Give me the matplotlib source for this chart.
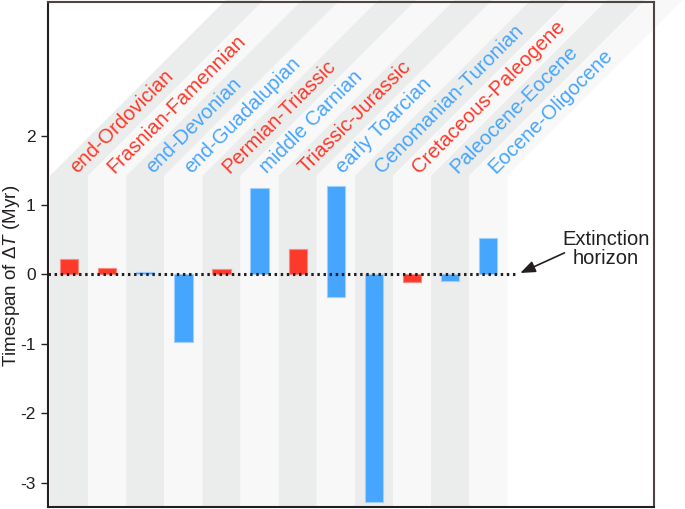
import matplotlib
matplotlib.use("Agg")
import matplotlib.pyplot as plt
from matplotlib.patches import Polygon
import numpy as np

plt.rcParams['font.family'] = ['Liberation Sans', 'DejaVu Sans']
plt.rcParams['mathtext.fontset'] = 'custom'
plt.rcParams['mathtext.rm'] = 'Liberation Sans'
plt.rcParams['mathtext.it'] = 'Liberation Sans:italic'

# ---- data ----
events = ["end-Ordovician", "Frasnian-Famennian", "end-Devonian", "end-Guadalupian",
          "Permian-Triassic", "middle Carnian", "Triassic-Jurassic", "early Toarcian",
          "Cenomanian-Turonian", "Cretaceous-Paleogene", "Paleocene-Eocene", "Eocene-Oligocene"]
groups = ["red", "red", "blue", "blue", "red", "blue", "red", "blue", "blue", "red", "blue", "blue"]
span_low = [0, 0, 0, -0.98, 0, 0, 0, -0.33, -3.28, -0.11, -0.09, 0]
span_high = [0.22, 0.09, 0.035, 0, 0.08, 1.24, 0.37, 1.27, 0, 0, 0, 0.52]
yticks = [-3, -2, -1, 0, 1, 2]
yticklabels = ["-3", "-2", "-1", "0", "1", "2"]

RED = "#fb3a2b"
BLUE = "#46a5fc"
RED_EDGE = "#fc8a80"
BLUE_EDGE = "#9fd0fd"
colors = {"red": RED, "blue": BLUE}
edges = {"red": RED_EDGE, "blue": BLUE_EDGE}
STRIPE_DARK = "#ebecec"
STRIPE_LIGHT = "#f8f8f8"

W, H = 685, 509
fig = plt.figure(figsize=(W / 100, H / 100), dpi=100)
ax = fig.add_axes([48 / W, 1 - 507 / H, (654 - 48) / W, (507 - 1.5) / H])

ax.set_xlim(-0.5525, 15.35)
ax.set_ylim(-3.35, 3.93)

n = len(events)
x = np.arange(n)
stripe_top = 1.42

# background stripes with 45-degree (in pixels) extension
to_disp = ax.transData
to_data = ax.transData.inverted()
for i in range(n):
    (xl, yb), = to_disp.transform([(i - 0.5, -3.35)])
    (xr, yt), = to_disp.transform([(i + 0.5, stripe_top)])
    ext = 400
    pts = [(xl, yb), (xr, yb), (xr, yt), (xr + ext, yt + ext), (xl + ext, yt + ext), (xl, yt)]
    pts = to_data.transform(pts)
    poly = Polygon(pts, closed=True, facecolor=STRIPE_DARK if i % 2 == 0 else STRIPE_LIGHT,
                   edgecolor='none', zorder=0, clip_on=False)
    ax.add_patch(poly)

# bars
for i in range(n):
    lo, hi = span_low[i], span_high[i]
    ax.bar(x[i], hi - lo, bottom=lo, width=0.48, color=colors[groups[i]],
           edgecolor=edges[groups[i]], linewidth=0.8, zorder=2)

# labels
for i in range(n):
    ax.annotate(events[i], xy=(x[i], stripe_top), xytext=(5.5, 1.0), textcoords='offset points',
                rotation=45, rotation_mode='anchor', ha='left', va='baseline',
                fontsize=14.6, color=colors[groups[i]], annotation_clip=False, zorder=3)

# extinction horizon
ax.plot([-0.5525, 11.75], [0, 0], linestyle=(0, (0.8, 1.2)), color="#231f20", linewidth=2.2,
        zorder=4, clip_on=False)
ax.annotate("", xy=(11.84, 0.02), xytext=(13.0, 0.31),
            arrowprops=dict(arrowstyle='-|>,head_length=0.9,head_width=0.35', color="#231f20",
                            linewidth=1.2, shrinkA=0, shrinkB=0))
ax.text(14.08, 0.36, "Extinction\nhorizon", ha='center', va='center', fontsize=14.5,
        color="#231f20", linespacing=1.0)

# axes styling
ax.set_xticks([])
ax.set_yticks(yticks)
ax.set_yticklabels(yticklabels, fontsize=12.5, color="#231f20")
ax.tick_params(axis='y', direction='out', length=5, width=1, color="#231f20", pad=4)
for s in ['left', 'bottom']:
    ax.spines[s].set_color("#231f20")
    ax.spines[s].set_linewidth(1.5)
for s in ['top', 'right']:
    ax.spines[s].set_color("#4d4542")
    ax.spines[s].set_linewidth(1.5)
ax.set_facecolor('white')

fig.text(0.5 / W, 1 - 276 / H, "Timespan of Δ$\\mathit{T}$ (Myr)", rotation=90,
         ha='left', va='center', fontsize=13.5, color="#231f20")

fig.savefig("out.png", dpi=100)
